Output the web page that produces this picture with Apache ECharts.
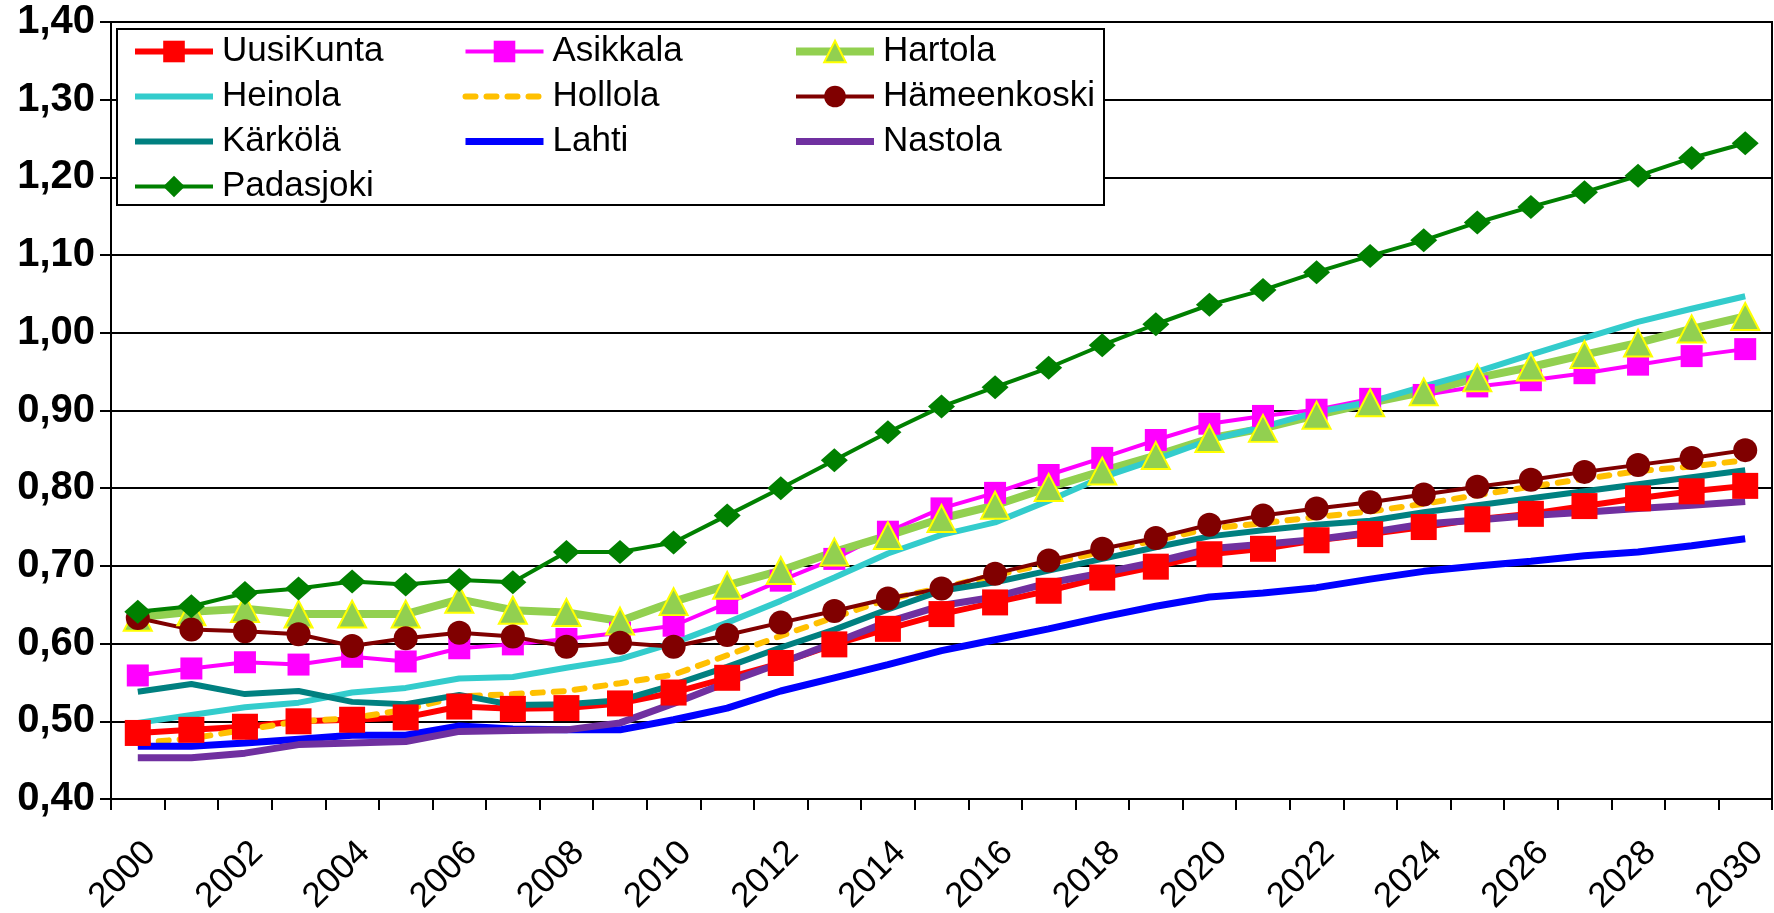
<!DOCTYPE html>
<html>
<head>
<meta charset="utf-8">
<script src="https://cdn.jsdelivr.net/npm/echarts@6/dist/echarts.min.js"></script>
<style>
html,body{margin:0;padding:0;background:#fff;}
#chart{width:1774px;height:913px;}
</style>
</head>
<body>
<div id="chart"></div>
<script>
const years = ['2000','2001','2002','2003','2004','2005','2006','2007','2008','2009','2010','2011','2012','2013','2014','2015','2016','2017','2018','2019','2020','2021','2022','2023','2024','2025','2026','2027','2028','2029','2030'];
const yTickLabels = ['0,40','0,50','0,60','0,70','0,80','0,90','1,00','1,10','1,20','1,30','1,40'];

const uusiKunta = [0.485,0.489,0.493,0.500,0.502,0.505,0.519,0.516,0.517,0.523,0.537,0.556,0.575,0.599,0.619,0.638,0.653,0.668,0.685,0.699,0.715,0.722,0.733,0.741,0.750,0.760,0.767,0.777,0.787,0.796,0.803];
const asikkala = [0.559,0.568,0.576,0.573,0.583,0.577,0.594,0.599,0.606,0.614,0.623,0.652,0.681,0.709,0.744,0.774,0.794,0.817,0.839,0.862,0.883,0.893,0.901,0.915,0.920,0.931,0.939,0.948,0.959,0.970,0.979];
const hartola = [0.634,0.641,0.645,0.638,0.638,0.638,0.657,0.643,0.640,0.629,0.654,0.675,0.694,0.718,0.739,0.761,0.778,0.801,0.822,0.842,0.864,0.877,0.894,0.910,0.924,0.942,0.956,0.972,0.987,1.005,1.021];
const heinola = [0.498,0.508,0.518,0.524,0.537,0.543,0.555,0.557,0.569,0.580,0.601,0.627,0.655,0.685,0.716,0.740,0.756,0.784,0.814,0.837,0.862,0.879,0.898,0.911,0.931,0.950,0.972,0.993,1.014,1.031,1.047];
const hollola = [0.472,0.478,0.489,0.500,0.504,0.515,0.532,0.535,0.539,0.549,0.560,0.585,0.610,0.634,0.657,0.672,0.688,0.703,0.718,0.733,0.748,0.755,0.763,0.770,0.780,0.791,0.802,0.812,0.822,0.828,0.836];
const hameenkoski = [0.633,0.618,0.616,0.612,0.597,0.607,0.614,0.609,0.596,0.601,0.596,0.611,0.627,0.642,0.658,0.671,0.690,0.707,0.722,0.736,0.753,0.765,0.774,0.782,0.792,0.802,0.811,0.821,0.830,0.839,0.849];
const karkola = [0.538,0.548,0.535,0.539,0.525,0.522,0.534,0.521,0.522,0.527,0.547,0.570,0.595,0.618,0.644,0.668,0.679,0.694,0.709,0.724,0.738,0.746,0.753,0.758,0.769,0.778,0.787,0.796,0.805,0.814,0.823];
const lahti = [0.468,0.468,0.472,0.477,0.482,0.482,0.494,0.490,0.489,0.489,0.502,0.517,0.539,0.556,0.573,0.591,0.605,0.619,0.634,0.648,0.660,0.665,0.672,0.683,0.693,0.700,0.706,0.713,0.718,0.726,0.735];
const nastola = [0.453,0.453,0.459,0.470,0.472,0.474,0.487,0.488,0.489,0.498,0.523,0.550,0.575,0.601,0.628,0.649,0.660,0.678,0.691,0.705,0.722,0.728,0.734,0.743,0.754,0.759,0.765,0.769,0.774,0.778,0.783];
const padasjoki = [0.641,0.648,0.665,0.671,0.680,0.676,0.682,0.679,0.718,0.718,0.730,0.765,0.800,0.836,0.872,0.905,0.930,0.955,0.984,1.011,1.036,1.055,1.078,1.099,1.119,1.142,1.162,1.181,1.202,1.225,1.244];

const FONT = '"Liberation Sans", Arial, sans-serif';

function lineSeries(name, data, color, width, opts) {
  const s = {
    name: name, type: 'line', data: data,
    lineStyle: {color: color, width: width},
    itemStyle: {color: color},
    symbol: 'none', showSymbol: false,
    emphasis: {disabled: true}
  };
  return Object.assign(s, opts || {});
}

const series = [
  lineSeries('UusiKunta', uusiKunta, '#FF0000', 6, {symbol: 'rect', showSymbol: true, symbolSize: 26}),
  lineSeries('Asikkala', asikkala, '#FF00FF', 4, {symbol: 'rect', showSymbol: true, symbolSize: 22}),
  lineSeries('Hartola', hartola, '#92D050', 8, {symbol: 'triangle', showSymbol: true, symbolSize: [28, 27], itemStyle: {color: '#92D050', borderColor: '#FFFF00', borderWidth: 2}}),
  lineSeries('Heinola', heinola, '#33CCCC', 6),
  lineSeries('Hollola', hollola, '#FFC000', 6, {lineStyle: {color: '#FFC000', width: 6, type: [10, 11], cap: 'round'}}),
  lineSeries('Hämeenkoski', hameenkoski, '#800000', 4, {symbol: 'circle', showSymbol: true, symbolSize: 24}),
  lineSeries('Kärkölä', karkola, '#008080', 6),
  lineSeries('Lahti', lahti, '#0000FF', 7),
  lineSeries('Nastola', nastola, '#7030A0', 7),
  lineSeries('Padasjoki', padasjoki, '#008000', 4, {symbol: 'diamond', showSymbol: true, symbolSize: [27, 24]})
];

const lineOnly = ['Heinola', 'Hollola', 'Kärkölä', 'Lahti', 'Nastola'];

function legendCol(left, names) {
  return {
    left: left, top: 34, orient: 'vertical',
    data: names.map(function (n) {
      return lineOnly.indexOf(n) >= 0
        ? {name: n, itemStyle: {opacity: 0, color: 'rgba(0,0,0,0)', borderColor: 'rgba(0,0,0,0)'}}
        : {name: n};
    }),
    itemWidth: 78, itemHeight: 27, itemGap: 10,
    lineStyle: {width: 'inherit'},
    selectedMode: false, z: 10, padding: 0,
    textStyle: {fontFamily: FONT, fontSize: 35, lineHeight: 34, color: '#000', padding: [0, 0, 0, 4]}
  };
}

const chart = echarts.init(document.getElementById('chart'));
chart.setOption({
  animation: false,
  backgroundColor: '#fff',
  grid: {left: 111, right: 2, top: 22, bottom: 114, containLabel: false, outerBoundsMode: 'none',
    show: true, borderColor: '#000', borderWidth: 2, backgroundColor: 'transparent'},
  graphic: [{
    type: 'rect', z: 5, left: 116, top: 28,
    shape: {width: 987, height: 176},
    style: {fill: '#fff', stroke: '#000', lineWidth: 2}
  }],
  legend: [
    legendCol(132, ['UusiKunta', 'Heinola', 'Kärkölä', 'Padasjoki']),
    legendCol(462, ['Asikkala', 'Hollola', 'Lahti']),
    legendCol(792, ['Hartola', 'Hämeenkoski', 'Nastola'])
  ],
  xAxis: {
    type: 'category', data: years, boundaryGap: true,
    axisLine: {show: true, lineStyle: {color: '#000', width: 2}},
    axisTick: {show: true, interval: 0, length: 11, lineStyle: {color: '#000', width: 2}},
    axisLabel: {interval: 1, rotate: 45, margin: 36, verticalAlign: 'top', hideOverlap: false, fontFamily: FONT, fontSize: 35, color: '#000'},
    splitLine: {show: false}
  },
  yAxis: {
    type: 'value', min: 0.4, max: 1.4, interval: 0.1,
    axisLine: {show: true, lineStyle: {color: '#000', width: 2}},
    axisTick: {show: true, length: 11, lineStyle: {color: '#000', width: 2}},
    axisLabel: {margin: 16, fontFamily: FONT, fontSize: 40, fontWeight: 'bold', color: '#000',
      formatter: function (v) { return yTickLabels[Math.round((v - 0.4) / 0.1)]; }},
    splitLine: {show: true, lineStyle: {color: '#000', width: 2}}
  },
  series: series
});
</script>
</body>
</html>
